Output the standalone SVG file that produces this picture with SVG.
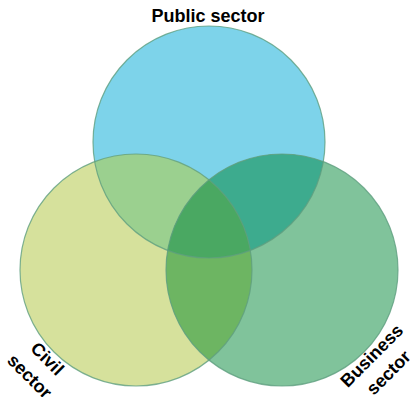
<svg xmlns="http://www.w3.org/2000/svg" width="412" height="397" viewBox="0 0 412 397">
<style>
.lbl{font-family:"Liberation Sans",Arial,sans-serif;font-weight:bold;font-size:18px;fill:#000;text-anchor:middle}
.ring{fill:none;stroke:#5f9f80;stroke-width:1.2;stroke-opacity:0.8}
</style>
<defs>
<clipPath id="cBlue"><circle cx="209" cy="142" r="116"/></clipPath>
<clipPath id="cYellow"><circle cx="136" cy="270" r="116"/></clipPath>
</defs>
<rect width="412" height="397" fill="#fff"/>
<g id="public">
<circle cx="209" cy="142" r="116" fill="#7dd3ea"/>
</g>
<g id="civil">
<circle cx="136" cy="270" r="116" fill="#d6e19c"/>
</g>
<g id="business">
<circle cx="282" cy="270" r="116" fill="#80c39b"/>
</g>
<g id="overlaps">
<circle cx="136" cy="270" r="116" fill="#9bd08f" clip-path="url(#cBlue)"/>
<circle cx="282" cy="270" r="116" fill="#3dab8e" clip-path="url(#cBlue)"/>
<circle cx="282" cy="270" r="116" fill="#6db562" clip-path="url(#cYellow)"/>
<g clip-path="url(#cBlue)"><circle cx="282" cy="270" r="116" fill="#4aa862" clip-path="url(#cYellow)"/></g>
</g>
<g id="outlines">
<circle class="ring" cx="209" cy="142" r="116"/>
<circle class="ring" cx="136" cy="270" r="116"/>
<circle class="ring" cx="282" cy="270" r="116"/>
</g>
<g id="labels">
<text class="lbl" x="208" y="22">Public sector</text>
<text class="lbl" transform="translate(43,363) rotate(45)"><tspan x="0" y="0">Civil</tspan><tspan x="0" y="25">sector</tspan></text>
<text class="lbl" transform="translate(376,360) rotate(-45)"><tspan x="0" y="0">Business</tspan><tspan x="0" y="24">sector</tspan></text>
</g>
</svg>
